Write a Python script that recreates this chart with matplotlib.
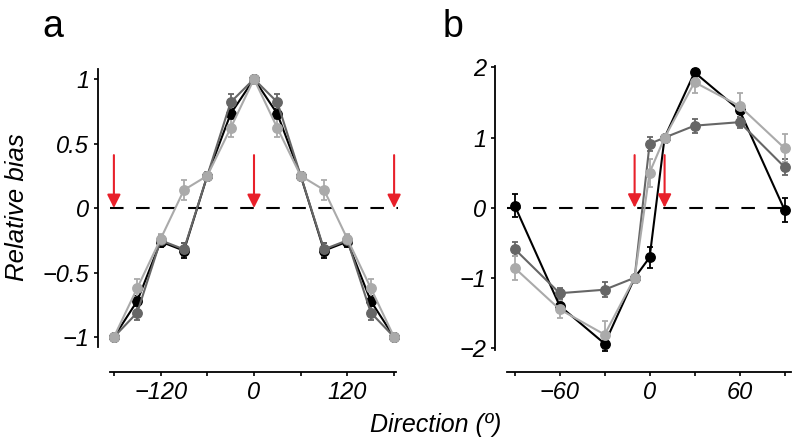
import matplotlib
matplotlib.use("Agg")
import matplotlib.pyplot as plt
from matplotlib import font_manager

names = {f.name for f in font_manager.fontManager.ttflist}
fam = [n for n in ["Liberation Sans Narrow", "Liberation Sans", "DejaVu Sans"] if n in names]
plt.rcParams['font.family'] = fam

# ---- data panel a ----
dir_a = [-180, -150, -120, -90, -60, -30, 0, 30, 60, 90, 120, 150, 180]
a_black = [-1, -0.72, -0.26, -0.33, 0.25, 0.73, 1, 0.73, 0.25, -0.33, -0.26, -0.72, -1]
a_dgray = [-1, -0.81, -0.25, -0.32, 0.25, 0.82, 1, 0.82, 0.25, -0.32, -0.25, -0.81, -1]
a_lgray = [-1, -0.62, -0.24, 0.14, 0.25, 0.62, 1, 0.62, 0.25, 0.14, -0.24, -0.62, -1]
a_black_err = [0, 0.04, 0.04, 0.06, 0.03, 0.04, 0, 0.04, 0.03, 0.06, 0.04, 0.04, 0]
a_dgray_err = [0, 0.06, 0.04, 0.05, 0.03, 0.06, 0, 0.06, 0.03, 0.05, 0.04, 0.06, 0]
a_lgray_err = [0, 0.07, 0.04, 0.08, 0.03, 0.07, 0, 0.07, 0.03, 0.08, 0.04, 0.07, 0]
arrows_a = [-180, 0, 180]

# ---- data panel b ----
dir_b = [-90, -60, -30, -10, 0, 10, 30, 60, 90]
b_black = [0.03, -1.40, -1.94, -1, -0.71, 1, 1.93, 1.39, -0.03]
b_dgray = [-0.59, -1.22, -1.17, -1, 0.91, 1, 1.17, 1.22, 0.58]
b_lgray = [-0.86, -1.45, -1.81, -1, 0.50, 1, 1.79, 1.45, 0.85]
b_black_err = [0.16, 0.05, 0.10, 0, 0.15, 0, 0.05, 0.05, 0.17]
b_dgray_err = [0.10, 0.08, 0.11, 0, 0.10, 0, 0.10, 0.08, 0.12]
b_lgray_err = [0.17, 0.12, 0.20, 0, 0.20, 0, 0.16, 0.18, 0.20]
arrows_b = [-10, 10]

colors = ['#000000', '#666666', '#aaaaaa']
red = '#e8202a'

fig = plt.figure(figsize=(8, 4.45), dpi=100)
ax_a = fig.add_axes([0.1375, 0.2135, 0.36, 0.638])
ax_b = fig.add_axes([0.634, 0.2135, 0.356, 0.638])


def draw(ax, x, series, errs, arrows, arrow_len):
    ax.axhline(0, color='black', lw=1.5, dashes=(6.5, 6), zorder=1)
    for ys, es, c in zip(series, errs, colors):
        ax.errorbar(x, ys, yerr=es, color=c, lw=1.5, marker='o', ms=6.8,
                    mec=c, mfc=c, capsize=2.5, elinewidth=1.3, capthick=1.3,
                    zorder=3, clip_on=False)
    for ax_x in arrows:
        ax.annotate('', xy=(ax_x, 0), xytext=(ax_x, arrow_len),
                    arrowprops=dict(arrowstyle='-|>', color=red, lw=1.5,
                                    mutation_scale=20, shrinkA=0, shrinkB=0),
                    zorder=5)
    for s in ['top', 'right']:
        ax.spines[s].set_visible(False)
    ax.spines['left'].set_position(('outward', 9))
    ax.spines['bottom'].set_position(('outward', 16))
    for s in ['left', 'bottom']:
        ax.spines[s].set_linewidth(1.3)
    ax.tick_params(direction='out', length=3, width=1.2, labelsize=17, pad=3)


draw(ax_a, dir_a, [a_black, a_dgray, a_lgray],
     [a_black_err, a_dgray_err, a_lgray_err], arrows_a, 0.41)
ax_a.set_xlim(-185, 185)
ax_a.set_ylim(-1.1, 1.1)
ax_a.set_xticks(range(-180, 181, 60))
ax_a.set_xticklabels(['', '\u2212120', '', '0', '', '120', ''])
ax_a.set_yticks([-1, -0.5, 0, 0.5, 1])
ax_a.set_yticklabels(['\u22121', '\u22120.5', '0', '0.5', '1'])
ax_a.spines['left'].set_bounds(-1.08, 1.08)
ax_a.spines['bottom'].set_bounds(-185, 182)

draw(ax_b, dir_b, [b_black, b_dgray, b_lgray],
     [b_black_err, b_dgray_err, b_lgray_err], arrows_b, 0.75)
ax_b.set_xlim(-95, 95)
ax_b.set_ylim(-2.03, 2.02)
ax_b.set_xticks(range(-90, 91, 30))
ax_b.set_xticklabels(['', '\u221260', '', '0', '', '60', ''])
ax_b.set_yticks([-2, -1, 0, 1, 2])
ax_b.set_yticklabels(['\u22122', '\u22121', '0', '1', '2'])
ax_b.spines['left'].set_bounds(-2.03, 2.02)
ax_b.spines['bottom'].set_bounds(-95, 94)

for ax in (ax_a, ax_b):
    for lab in ax.get_xticklabels() + ax.get_yticklabels():
        lab.set_style('italic')

fig.text(0.021, 0.535, 'Relative bias', fontsize=18.5, style='italic',
         rotation=90, ha='center', va='center')
fig.text(0.544, 0.045, 'Direction (\u00ba)', fontsize=18, style='italic',
         ha='center', va='center')
fig.text(0.053, 1 - 37 / 445, 'a', fontsize=27, ha='left', va='baseline')
fig.text(0.553, 1 - 37 / 445, 'b', fontsize=27, ha='left', va='baseline')

fig.savefig('out.png', dpi=100)
